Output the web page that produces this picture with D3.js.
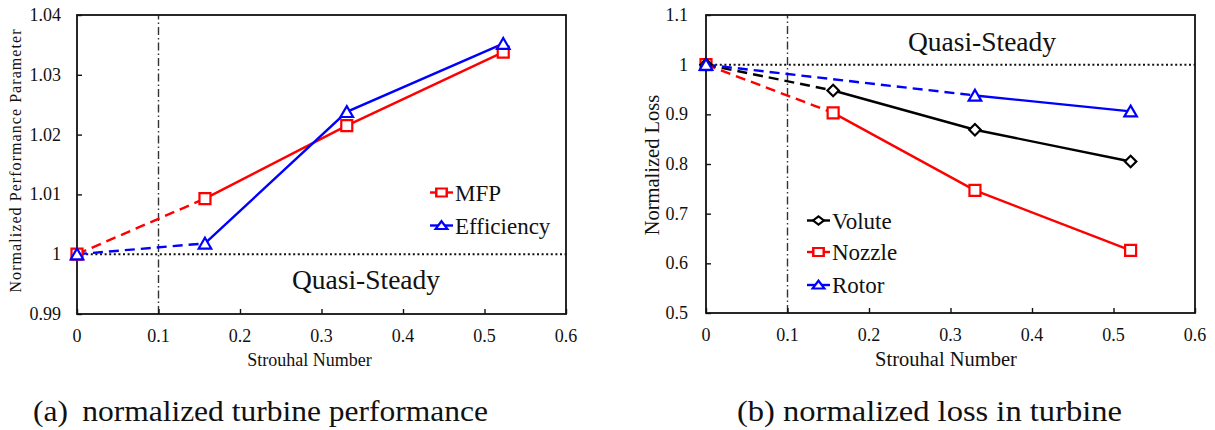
<!DOCTYPE html>
<html><head><meta charset="utf-8">
<script src="https://cdn.jsdelivr.net/npm/d3@7"></script>
<style>
html,body{margin:0;padding:0;background:#fff;}
</style></head>
<body><svg id="c" width="1215" height="430"></svg>
<script>
// ---- Data ----
const xTicks = [0, 0.1, 0.2, 0.3, 0.4, 0.5, 0.6];
const yTicksA = [0.99, 1, 1.01, 1.02, 1.03, 1.04];
const yTickLabelsA = ["0.99", "1", "1.01", "1.02", "1.03", "1.04"];
const yTicksB = [0.5, 0.6, 0.7, 0.8, 0.9, 1, 1.1];
const yTickLabelsB = ["0.5", "0.6", "0.7", "0.8", "0.9", "1", "1.1"];

const mfpX = [0, 0.157, 0.331, 0.523];
const mfpY = [1.0, 1.0093, 1.0215, 1.0338];
const effX = [0, 0.157, 0.331, 0.523];
const effY = [1.0, 1.0018, 1.0238, 1.0352];

const voluteX = [0, 0.156, 0.330, 0.521];
const voluteY = [1.0, 0.948, 0.869, 0.805];
const nozzleX = [0, 0.156, 0.330, 0.521];
const nozzleY = [1.0, 0.903, 0.747, 0.626];
const rotorX = [0, 0.330, 0.521];
const rotorY = [1.0, 0.938, 0.906];

const FONT = "Liberation Serif";
const svg = d3.select("#c");

function symbolPath(type){
  if(type==="square") return d3.symbol(d3.symbolSquare, 121)();
  if(type==="triangle") return d3.symbol(d3.symbolTriangle, 68)();
  if(type==="diamond") return d3.symbol(d3.symbolSquare, 66)();
}
function symRot(type){ return type==="diamond" ? " rotate(45)" : ""; }
function symDy(type){ return type==="triangle" ? 1.5 : 0; }

function txt(g){ return g.append("text").attr("font-family", FONT).attr("fill","#111"); }

function panel(opts){
  const g = svg.append("g");
  const x = d3.scaleLinear().domain([0,0.6]).range([opts.x0, opts.x1]);
  const y = d3.scaleLinear().domain(opts.yDom).range([opts.y1, opts.y0]);

  // reference lines
  g.append("line").attr("x1", x(0)).attr("x2", x(0.6)).attr("y1", y(1)).attr("y2", y(1))
    .attr("stroke","#111").attr("stroke-width",2).attr("stroke-dasharray","2,2.6");
  g.append("line").attr("x1", x(0.1)).attr("x2", x(0.1)).attr("y1", y(opts.yDom[0])).attr("y2", y(opts.yDom[1]))
    .attr("stroke","#333").attr("stroke-width",1.4).attr("stroke-dasharray","8,3,1.5,3");

  // axes (inward ticks)
  const xa = g.append("g").attr("transform",`translate(0,${opts.y1})`)
    .call(d3.axisTop(x).tickValues(xTicks).tickSize(5).tickFormat(""));
  const ya = g.append("g").attr("transform",`translate(${opts.x0},0)`)
    .call(d3.axisRight(y).tickValues(opts.yTicks).tickSize(5).tickFormat(""));
  [xa, ya].forEach(a => { a.select(".domain").remove(); a.selectAll("line").attr("stroke","#111").attr("stroke-width",1.4); });

  // frame
  g.append("rect").attr("x",opts.x0).attr("y",opts.y0).attr("width",opts.x1-opts.x0).attr("height",opts.y1-opts.y0)
    .attr("fill","none").attr("stroke","#111").attr("stroke-width",1.8);

  // tick labels
  g.selectAll(".xl").data(xTicks).join("text").attr("font-family", FONT).attr("fill","#111")
    .attr("x", d=>x(d)).attr("y", opts.y1+28).attr("text-anchor","middle")
    .attr("font-size", 18).text(d=>d===0?"0":d3.format(".1f")(d));
  g.selectAll(".yl").data(opts.yTicks).join("text").attr("font-family", FONT).attr("fill","#111")
    .attr("x", opts.x0-opts.ylGap).attr("y", d=>y(d)+6).attr("text-anchor","end")
    .attr("font-size", 18).text((d,i)=>opts.yTickLabels[i]);

  // axis titles
  txt(g).attr("x",(opts.x0+opts.x1)/2 + opts.xtDx).attr("y", 366).attr("text-anchor","middle")
    .attr("font-size", opts.xtSize).text("Strouhal Number");
  const yt = txt(g).attr("transform",`translate(${opts.ytX},${opts.ytY}) rotate(-90)`)
    .attr("text-anchor","middle").attr("font-size", opts.ytSize).text(opts.yTitle);
  if(opts.ytLen) yt.attr("textLength", opts.ytLen).attr("lengthAdjust","spacing");

  // series
  const line = d3.line().x(d=>x(d[0])).y(d=>y(d[1]));
  opts.series.forEach(s => {
    const pts = s.xs.map((v,i)=>[v, s.ys[i]]);
    g.append("path").attr("d", line(pts.slice(0,2))).attr("fill","none")
      .attr("stroke", s.color).attr("stroke-width",2.4).attr("stroke-dasharray","10,6");
    g.append("path").attr("d", line(pts.slice(1))).attr("fill","none")
      .attr("stroke", s.color).attr("stroke-width",2.4);
  });
  opts.series.forEach(s => {
    const pts = s.xs.map((v,i)=>[v, s.ys[i]]);
    g.selectAll(null).data(pts).join("path")
      .attr("transform", d=>`translate(${x(d[0])},${y(d[1]) + symDy(s.sym)})${symRot(s.sym)}`)
      .attr("d", symbolPath(s.sym)).attr("fill","#fff")
      .attr("stroke", s.color).attr("stroke-width",2.2);
  });

  // legend
  opts.series.forEach((s,i) => {
    const ly = opts.legYs[i];
    g.append("line").attr("x1", opts.legX).attr("x2", opts.legX+23).attr("y1", ly).attr("y2", ly)
      .attr("stroke", s.color).attr("stroke-width",2.4);
    g.append("path").attr("transform",`translate(${opts.legX+11.5},${ly + symDy(s.sym)*0.6}) scale(0.95,0.72)${symRot(s.sym)}`)
      .attr("d", symbolPath(s.sym)).attr("fill","#fff").attr("stroke", s.color).attr("stroke-width",2.6);
    txt(g).attr("x", opts.legX+25).attr("y", ly+8).attr("font-size", 23).text(s.name);
  });

  // annotation
  txt(g).attr("x", opts.qsX).attr("y", opts.qsY).attr("text-anchor","middle")
    .attr("font-size", 27.5).text("Quasi-Steady");

  // caption
  txt(g).attr("x", opts.capX).attr("y", 421).attr("font-size", 30)
    .attr("textLength", opts.capW).attr("lengthAdjust","spacingAndGlyphs").text(opts.caption);
}

panel({
  x0: 77, x1: 566, y0: 15, y1: 314, yDom: [0.99, 1.04], ylGap: 16,
  yTicks: yTicksA, yTickLabels: yTickLabelsA,
  yTitle: "Normalized Performance Parameter", ytX: 21, ytY: 161, ytSize: 16, ytLen: 263,
  xtSize: 18, xtDx: -12,
  series: [
    {name:"MFP", xs: mfpX, ys: mfpY, color:"#ff0000", sym:"square"},
    {name:"Efficiency", xs: effX, ys: effY, color:"#0000ff", sym:"triangle"}
  ],
  legX: 430, legYs: [192.5, 225.5],
  qsX: 366, qsY: 289,
  capX: 33, capW: 455, caption: "(a)\u2009 normalized turbine performance"
});

panel({
  x0: 706, x1: 1195, y0: 15, y1: 313, yDom: [0.5, 1.1], ylGap: 18,
  yTicks: yTicksB, yTickLabels: yTickLabelsB,
  yTitle: "Normalized Loss", ytX: 659, ytY: 165, ytSize: 20.5, ytLen: 0,
  xtSize: 20.5, xtDx: -4.5,
  series: [
    {name:"Nozzle", xs: nozzleX, ys: nozzleY, color:"#ff0000", sym:"square"},
    {name:"Volute", xs: voluteX, ys: voluteY, color:"#000000", sym:"diamond"},
    {name:"Rotor", xs: rotorX, ys: rotorY, color:"#0000ff", sym:"triangle"}
  ].map(s=>s),
  legX: 807, legYs: [252, 220.5, 285],
  qsX: 982, qsY: 51,
  capX: 737, capW: 385, caption: "(b) normalized loss in turbine"
});
</script></body></html>
